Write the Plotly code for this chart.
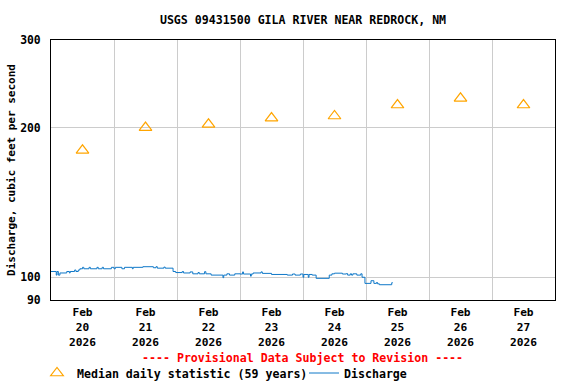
import plotly.graph_objects as go
from datetime import datetime, timedelta

# ---- data ----
median_dates = ["2026-02-20 12:00", "2026-02-21 12:00", "2026-02-22 12:00", "2026-02-23 12:00",
                "2026-02-24 12:00", "2026-02-25 12:00", "2026-02-26 12:00", "2026-02-27 12:00"]
median_cfs = [180, 200, 203, 209, 211, 222, 229, 222]

# discharge change points (hours after 2026-02-20 00:00) and values (cfs), step series
discharge_hours = [0, 2.0, 2.3, 2.8, 3.4, 6.0, 7.0, 7.3, 9.0, 9.5, 10.4, 11.0, 12.0, 12.5,
                   14.5, 15.0, 17.5, 18.0, 19.5, 20.0, 23.0, 24.0, 24.5, 27.0, 28.0, 31.0,
                   31.3, 35.0, 39.0, 40.0, 40.5, 43.0, 43.5, 46.5, 47.5, 50.0, 50.5, 53.0,
                   54.0, 56.0, 56.5, 58.5, 59.0, 61.0, 65.5, 65.8, 67.0, 68.0, 70.0, 72.0,
                   73.0, 73.3, 76.0, 76.3, 77.0, 80.0, 80.5, 84.0, 90.0, 92.0, 93.0, 95.0,
                   96.0, 96.3, 98.0, 98.3, 99.5, 101.0, 106.0, 107.0, 108.0, 111.0, 112.5,
                   113.0, 114.0, 114.5, 115.0, 116.5, 118.0, 118.5, 119.6, 121.9, 123.0,
                   124.0, 124.4, 125.1, 129.8, 130.2]
discharge_cfs = [102.7, 101.0, 102.7, 101.0, 102.0, 102.7, 102.0, 102.7, 103.4, 102.7, 103.4,
                 104.0, 104.7, 104.0, 104.7, 104.0, 104.7, 104.0, 104.7, 104.0, 104.7, 104.0,
                 104.7, 104.0, 104.7, 104.0, 104.7, 105.0, 104.5, 105.0, 104.3, 104.8, 104.3,
                 102.7, 102.2, 102.7, 102.0, 102.5, 101.6, 102.2, 101.6, 102.6, 101.6, 101.0,
                 99.8, 101.0, 101.6, 101.0, 101.6, 101.5, 102.5, 101.5, 100.5, 101.5, 102.0,
                 102.5, 101.8, 101.3, 101.0, 101.5, 101.0, 101.5, 100.0, 101.3, 100.0, 101.3,
                 101.0, 99.5, 101.0, 101.6, 101.9, 101.5, 101.7, 101.0, 101.6, 101.0, 101.6,
                 101.0, 101.6, 100.0, 97.2, 98.4, 97.2, 97.6, 97.0, 96.6, 97.5, 97.5]

day_labels = ["Feb<br>20<br>2026", "Feb<br>21<br>2026", "Feb<br>22<br>2026", "Feb<br>23<br>2026",
              "Feb<br>24<br>2026", "Feb<br>25<br>2026", "Feb<br>26<br>2026", "Feb<br>27<br>2026"]
y_ticks = [90, 100, 200, 300]

start = datetime(2026, 2, 20)
discharge_times = [start + timedelta(hours=h) for h in discharge_hours]
midnights = [start + timedelta(days=d) for d in range(9)]

FONT = "DejaVu Sans Mono"

fig = go.Figure()
fig.add_trace(go.Scatter(
    x=median_dates, y=median_cfs, mode="markers", name="Median daily statistic (59 years)",
    marker=dict(symbol="triangle-up-open", size=11, color="#FFA500", line=dict(width=1.2, color="#FFA500")),
))
fig.add_trace(go.Scatter(
    x=discharge_times, y=discharge_cfs, mode="lines", name="Discharge",
    line=dict(color="#0F78C8", width=1, shape="hv"),
))

fig.update_layout(
    width=576, height=384,
    margin=dict(l=51, r=21, t=40, b=84, autoexpand=False),
    paper_bgcolor="white", plot_bgcolor="white",
    font=dict(family=FONT, size=11, color="black", weight="bold"),
    title=dict(text="USGS 09431500 GILA RIVER NEAR REDROCK, NM", x=303 / 576, xanchor="center",
               y=1 - 20 / 384, yanchor="middle",
               font=dict(family=FONT, size=11.6, color="black", weight="bold")),
    showlegend=True,
    legend=dict(orientation="h", x=(37 - 51) / 504, xanchor="left", y=(300 - 373) / 260, yanchor="middle",
                font=dict(family=FONT, size=11.6, color="black", weight="bold"),
                itemwidth=30, entrywidth=222, entrywidthmode="pixels",
                bgcolor="rgba(0,0,0,0)", traceorder="normal"),
)

fig.update_xaxes(
    type="date", range=[midnights[0], midnights[-1]], automargin=False,
    tickmode="array", tickvals=median_dates, ticktext=day_labels,
    showgrid=False, ticks="", ticklabelstandoff=2,
    minor=dict(tickvals=midnights, showgrid=True, gridcolor="#CCCCCC", gridwidth=1, ticks=""),
    showline=True, linecolor="black", linewidth=1, mirror=True,
    tickfont=dict(family=FONT, size=11.2, color="black", weight="bold"),
    zeroline=False,
)
fig.update_yaxes(
    type="log", range=[1.954242509, 2.477121255], automargin=False,
    tickmode="array", tickvals=y_ticks, ticktext=[str(v) for v in y_ticks],
    showgrid=True, gridcolor="#CCCCCC", gridwidth=1,
    showline=True, linecolor="black", linewidth=1, mirror=True,
    ticks="", ticklabelstandoff=7,
    tickfont=dict(family=FONT, size=11.4, color="black", weight="bold"),
    title=dict(text="Discharge, cubic feet per second", standoff=2,
               font=dict(family=FONT, size=11, color="black", weight="bold")),
    zeroline=False,
)

fig.add_annotation(
    text="---- Provisional Data Subject to Revision ----", xref="paper", yref="paper",
    x=(302 - 51) / 504, y=(300 - 358) / 260, xanchor="center", yanchor="middle", showarrow=False,
    font=dict(family=FONT, size=11.6, color="red", weight="bold"),
)

fig.write_html("out.html", config={"displayModeBar": False},
               post_script="document.body.style.margin='0';document.body.style.padding='0';")
